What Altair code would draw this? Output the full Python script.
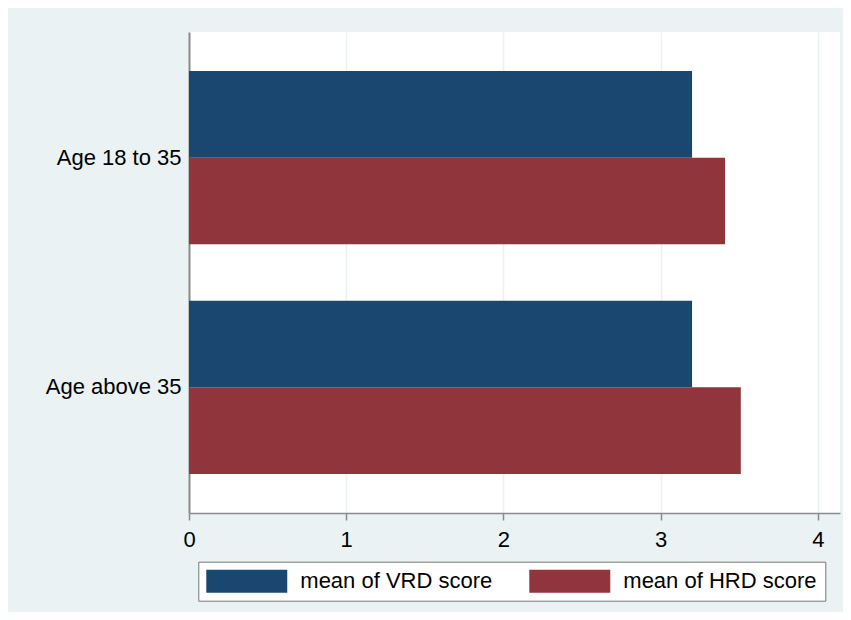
import altair as alt
import pandas as pd

categories = ["Age 18 to 35", "Age above 35"]
series = ["mean of VRD score", "mean of HRD score"]
vrd_values = [3.20, 3.20]
hrd_values = [3.41, 3.51]
x_ticks = [0, 1, 2, 3, 4]

rows = []
for cat, v, h in zip(categories, vrd_values, hrd_values):
    rows.append({"group": cat, "series": series[0], "value": v})
    rows.append({"group": cat, "series": series[1], "value": h})
df = pd.DataFrame(rows)

NAVY = "#1A476F"
MAROON = "#90353B"
BG = "#EAF2F3"
FONT = "Liberation Sans"

# swatch 81 x 23 px: slot is 23 px (sqrt(size)), path extends to the right
SWATCH = "M-1,-1H6.04V1H-1Z"

chart = alt.Chart(df).mark_bar().encode(
    x=alt.X(
        "value:Q",
        scale=alt.Scale(domain=[0, 4.141], nice=False, zero=True),
        axis=alt.Axis(
            values=x_ticks, format="d", title=None, grid=True,
            gridColor=BG, gridWidth=1.5,
            domainColor="#8a8a8a", domainWidth=1.5,
            tickColor="#8a8a8a", tickSize=7, tickWidth=1.5,
            labelFontSize=22, labelFont=FONT, labelColor="black",
            labelPadding=9, labelFlush=False,
        ),
    ),
    y=alt.Y(
        "group:N",
        sort=categories,
        scale=alt.Scale(paddingInner=0.246, paddingOuter=0.17),
        axis=alt.Axis(
            title=None, ticks=False, grid=False,
            domainColor="#8a8a8a", domainWidth=2,
            labelFontSize=22, labelFont=FONT, labelColor="black",
            labelPadding=8, labelLimit=300,
        ),
    ),
    yOffset=alt.YOffset(
        "series:N", sort=series,
        scale=alt.Scale(paddingInner=0, paddingOuter=0),
    ),
    color=alt.Color(
        "series:N",
        sort=series,
        scale=alt.Scale(domain=series, range=[NAVY, MAROON]),
        legend=alt.Legend(
            title=None, orient="none", legendX=9.3, legendY=529.7,
            direction="horizontal", columns=2,
            symbolType=SWATCH, symbolSize=529,
            symbolStrokeWidth=0, symbolOpacity=1,
            labelFontSize=22, labelFont=FONT, labelColor="black",
            labelOffset=71, columnPadding=37, padding=8, labelLimit=400,
            strokeColor="#777777", fillColor="white",
        ),
    ),
).properties(
    width=651,
    height=481,
    background=BG,
    padding={"left": 181, "top": 24, "right": 3, "bottom": 99},
    autosize=alt.AutoSizeParams(type="none"),
).configure_view(
    fill="white", stroke=None
)

chart.save("out.html", embed_options={"renderer": "svg", "actions": False})
